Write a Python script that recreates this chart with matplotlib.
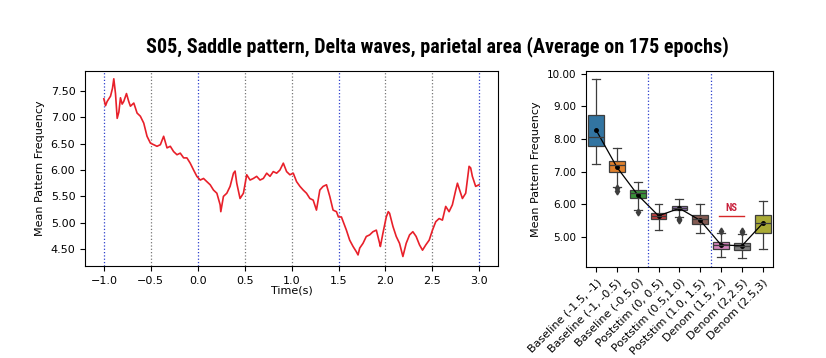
import numpy as np
import matplotlib
matplotlib.use("Agg")
import matplotlib.pyplot as plt

# ---- left panel: averaged pattern frequency over time
time_s = [-1.000, -0.982, -0.965, -0.929, -0.908, -0.894, -0.876, -0.858, -0.840,
          -0.823, -0.805, -0.788, -0.759, -0.735, -0.717, -0.681, -0.646, -0.611,
          -0.575, -0.540, -0.504, -0.469, -0.434, -0.398, -0.363, -0.327, -0.292,
          -0.257, -0.221, -0.186, -0.150, -0.115, -0.080, -0.044, -0.009, 0.027,
          0.062, 0.097, 0.133, 0.168, 0.204, 0.239, 0.246, 0.274, 0.310, 0.345,
          0.381, 0.398, 0.416, 0.451, 0.487, 0.522, 0.558, 0.593, 0.628, 0.664,
          0.699, 0.735, 0.770, 0.805, 0.841, 0.876, 0.912, 0.947, 0.982, 1.018,
          1.053, 1.089, 1.124, 1.159, 1.195, 1.230, 1.265, 1.301, 1.336, 1.372,
          1.407, 1.442, 1.478, 1.499, 1.531, 1.584, 1.619, 1.655, 1.690, 1.708,
          1.726, 1.761, 1.796, 1.832, 1.867, 1.903, 1.938, 1.946, 1.973, 2.009,
          2.030, 2.044, 2.080, 2.115, 2.150, 2.186, 2.221, 2.257, 2.292, 2.327,
          2.363, 2.395, 2.430, 2.466, 2.501, 2.536, 2.572, 2.607, 2.642, 2.678,
          2.713, 2.749, 2.767, 2.785, 2.820, 2.855, 2.891, 2.908, 2.926, 2.961,
          2.997]
mean_freq = [7.35, 7.22, 7.30, 7.40, 7.55, 7.73, 7.45, 6.98, 7.10,
             7.37, 7.25, 7.30, 7.45, 7.30, 7.21, 7.27, 7.08, 7.02,
             6.89, 6.64, 6.51, 6.48, 6.45, 6.48, 6.64, 6.42, 6.45,
             6.35, 6.29, 6.32, 6.23, 6.23, 6.13, 6.00, 5.88, 5.81,
             5.84, 5.78, 5.72, 5.62, 5.56, 5.34, 5.21, 5.50, 5.56, 5.69,
             5.94, 5.98, 5.75, 5.46, 5.56, 5.91, 5.81, 5.84, 5.88, 5.81,
             5.84, 5.94, 5.88, 5.97, 5.94, 6.00, 6.13, 5.97, 5.91, 5.94,
             5.78, 5.69, 5.62, 5.56, 5.46, 5.43, 5.24, 5.62, 5.69, 5.72,
             5.50, 5.24, 5.21, 5.11, 5.11, 4.86, 4.67, 4.55, 4.45, 4.39,
             4.52, 4.61, 4.74, 4.77, 4.83, 4.86, 4.61, 4.55, 4.80, 5.11,
             5.21, 5.18, 4.93, 4.74, 4.61, 4.36, 4.61, 4.77, 4.83, 4.74,
             4.58, 4.48, 4.58, 4.67, 4.86, 5.02, 5.08, 5.05, 5.31, 5.21,
             5.34, 5.62, 5.75, 5.65, 5.46, 5.56, 6.07, 6.04, 5.88, 5.69,
             5.72]
blue_marks = [-1.0, 0.0, 1.5, 3.0]
grey_marks = [-0.5, 0.5, 1.0, 2.0, 2.5]

# ---- right panel: box statistics per window
windows = ["Baseline (-1.5, -1)", "Baseline (-1, -0.5)", "Baseline (-0.5,0)",
           "Poststim (0, 0.5)", "Poststim (0.5,1.0)", "Poststim (1.0, 1.5)",
           "Denom (1.5, 2)", "Denom (2,2.5)", "Denom (2.5,3)"]
whis_lo = [7.25, 6.54, 5.82, 5.23, 5.61, 5.13, 4.39, 4.35, 4.64]
q1 = [7.80, 7.00, 6.20, 5.56, 5.84, 5.41, 4.62, 4.61, 5.13]
median = [8.05, 7.20, 6.35, 5.65, 5.89, 5.56, 4.76, 4.72, 5.44]
q3 = [8.73, 7.34, 6.43, 5.74, 5.95, 5.67, 4.85, 4.83, 5.69]
whis_hi = [9.84, 7.74, 6.69, 6.00, 6.15, 6.00, 5.12, 5.10, 6.11]
means = [8.28, 7.14, 6.29, 5.65, 5.88, 5.51, 4.76, 4.73, 5.42]
outliers = [[], [6.49, 6.41], [5.77], [], [5.55, 5.51], [], [5.20], [5.20, 5.15], []]
box_colors = ["#3274A1", "#E1812C", "#3A923A", "#C03D3E", "#9372B2",
              "#845B53", "#D684BD", "#7F7F7F", "#A9AA35"]
window_splits = [2.5, 5.5]

narrow_bold = ["Roboto Condensed", "Liberation Sans Narrow", "DejaVu Sans"]

fig = plt.figure(figsize=(8.26, 3.58), dpi=100)
ax1 = fig.add_axes([0.103, 0.257, 0.500, 0.545])
ax2 = fig.add_axes([0.709, 0.254, 0.227, 0.548])

# left
for t in blue_marks:
    ax1.axvline(t, color="#2b3fcc", linestyle=":", linewidth=0.9)
for t in grey_marks:
    ax1.axvline(t, color="#777777", linestyle=":", linewidth=0.9)
ax1.plot(time_s, mean_freq, color="#e8202a", linewidth=1.2)
ax1.set_xlim(-1.2, 3.2)
ax1.set_ylim(4.18, 7.88)
ax1.set_xticks(np.arange(-1.0, 3.01, 0.5))
ax1.set_yticks(np.arange(4.5, 7.51, 0.5))
ax1.yaxis.set_major_formatter(matplotlib.ticker.FormatStrFormatter("%.2f"))
ax1.tick_params(labelsize=8)
ax1.set_xlabel("Time(s)", fontsize=8, labelpad=0)
ax1.set_ylabel("Mean Pattern Frequency", fontsize=8)

# right
stats = []
for i in range(len(windows)):
    stats.append(dict(med=median[i], q1=q1[i], q3=q3[i], whislo=whis_lo[i],
                      whishi=whis_hi[i], fliers=outliers[i], mean=means[i]))
pos = np.arange(len(windows))
edge = "#3d3d3d"
bp = ax2.bxp(stats, positions=pos, widths=0.75, patch_artist=True,
             showmeans=False,
             boxprops=dict(edgecolor=edge, linewidth=0.9),
             medianprops=dict(color=edge, linewidth=0.9),
             whiskerprops=dict(color=edge, linewidth=0.9),
             capprops=dict(color=edge, linewidth=0.9),
             flierprops=dict(marker="d", markerfacecolor=edge,
                             markeredgecolor=edge, markersize=3.5))
for patch, c in zip(bp["boxes"], box_colors):
    patch.set_facecolor(c)
ax2.plot(pos, means, color="black", marker="o", markersize=2.5, linewidth=0.9)
for x in window_splits:
    ax2.axvline(x, color="#2b3fcc", linestyle=":", linewidth=0.9)
ax2.plot([5.9, 7.1], [5.64, 5.64], color="#d62728", linewidth=1.0)
ax2.text(6.5, 5.75, "NS", color="#c8203c", fontsize=7.5, family=narrow_bold,
         fontweight="bold", ha="center", va="bottom")
ax2.set_xlim(-0.5, 8.5)
ax2.set_ylim(4.08, 10.09)
ax2.set_yticks([5, 6, 7, 8, 9, 10])
ax2.yaxis.set_major_formatter(matplotlib.ticker.FormatStrFormatter("%.2f"))
ax2.set_xticks(pos)
ax2.set_xticklabels(windows, rotation=45, ha="right", rotation_mode="anchor",
                    fontsize=8)
ax2.tick_params(axis="y", labelsize=7.5)
ax2.set_ylabel("Mean Pattern Frequency", fontsize=8)

fig.text(0.529, 0.869,
         "S05, Saddle pattern, Delta waves, parietal area (Average on 175 epochs)",
         ha="center", va="center", fontsize=14.5, fontweight="bold",
         family=narrow_bold)

fig.savefig("out.png", dpi=100)
